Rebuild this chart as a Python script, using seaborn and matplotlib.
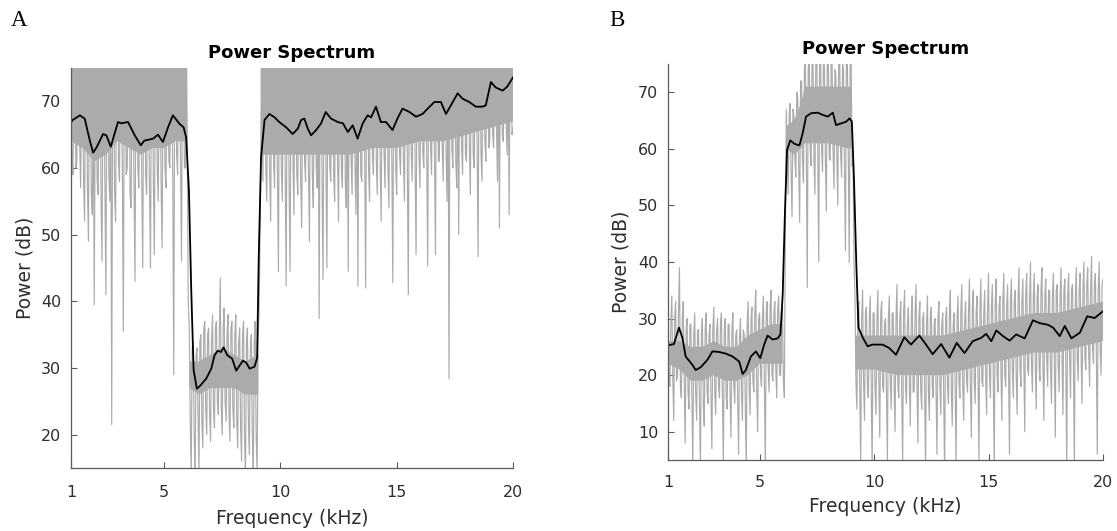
import numpy as np
import pandas as pd
import matplotlib
matplotlib.use("Agg")
import matplotlib.pyplot as plt
import seaborn as sns

# ---------------- data ----------------
# raw spectrum samples, 24 per kHz from 1 to 20 kHz (one row per kHz)
GRAY_A = [
    71, 62, 59, 74, 77, 60, 61, 76, 75, 63, 57, 73, 78, 58, 52, 75, 73, 57, 49, 76, 70, 56, 53, 72,
    39.5, 72, 74, 58, 56, 76, 77, 55, 46, 74, 73, 57, 41, 75, 76, 59, 55, 73, 21.5, 76, 75, 56, 52, 77,
    78, 61, 58, 75, 76, 60, 35.5, 77, 74, 59, 60, 76, 77, 56, 54, 74, 72, 58, 43, 76, 75, 60, 57, 73,
    73, 58, 45, 75, 76, 59, 56, 74, 71, 57, 45, 76, 75, 58, 47, 73, 77, 60, 55, 75, 72, 57, 48, 76,
    76, 60, 57, 77, 78, 61, 60, 76, 75, 58, 29, 77, 78, 62, 59, 75, 74, 61, 46, 77, 77, 60, 60, 74,
    62, 40, 36, 22, 14, 33, 34, 21, 12, 32, 33, 23, 14, 34, 35, 22, 18, 36, 37, 24, 20, 35, 36, 23,
    19, 34, 38, 24, 21, 36, 37, 25, 23, 35, 43.5, 24, 20, 36, 39, 25, 22, 35, 38, 23, 19, 36, 37, 24,
    21, 35, 38, 22, 18, 34, 36, 21, 16, 35, 37, 20, 13, 34, 36, 22, 17, 33, 35, 21, 12, 34, 37, 20,
    14, 34, 38, 50, 64, 74, 58, 77, 77, 60, 55, 75, 76, 59, 52, 76, 78, 61, 57, 73, 74, 60, 44.5, 77,
    76, 60, 55, 74, 73, 59, 42.3, 77, 77, 58, 44.5, 75, 75, 61, 53, 76, 72, 59, 56, 77, 76, 58, 51, 74,
    78, 61, 58, 76, 74, 60, 49, 75, 76, 59, 54, 77, 72, 60, 57, 74, 37.4, 76, 75, 58, 43.3, 75, 77, 61,
    45, 75, 78, 60, 58, 77, 74, 59, 55, 76, 77, 61, 52, 74, 73, 60, 57, 77, 76, 58, 54, 75, 44.5, 76,
    75, 61, 56, 77, 72, 60, 53, 76, 42.3, 74, 76, 59, 58, 75, 78, 61, 42, 76, 77, 60, 55, 78, 75, 62,
    59, 76, 78, 61, 56, 75, 77, 60, 52, 77, 74, 62, 57, 75, 76, 60, 54, 77, 72, 61, 42.8, 76, 75, 60,
    56, 77, 78, 62, 59, 75, 77, 61, 55, 76, 76, 60, 41, 77, 78, 62, 58, 75, 74, 61, 47, 78, 77, 62,
    57, 77, 75, 62, 60, 76, 78, 61, 45.3, 77, 76, 63, 59, 75, 78, 62, 47, 77, 77, 61, 61, 78, 75, 63,
    58, 76, 78, 62, 55, 77, 28.4, 75, 77, 63, 60, 78, 78, 61, 57, 76, 50, 77, 78, 63, 59, 77, 76, 62,
    61, 77, 78, 63, 56, 76, 75, 62, 60, 78, 77, 63, 46.7, 77, 78, 62, 58, 76, 76, 64, 61, 77, 78, 63,
    64, 77, 79, 65, 63, 78, 78, 66, 58, 77, 51, 78, 79, 65, 64, 77, 78, 66, 62, 78, 53, 77, 78, 65,
    66,
]
GRAY_B = [
    31, 19, 18, 29, 34, 20, 12, 30, 33, 19, 20, 31, 39, 18, 16, 30, 33, 19, 8, 28, 30, 17, 14, 29,
    29, 16, 4, 27, 31, 17, 12, 28, 28, 16, 3, 27, 30, 15, 11, 28, 31, 17, 15, 27, 29, 16, 7, 28,
    32, 17, 13, 28, 30, 18, 16, 29, 31, 17, 4, 28, 30, 16, 14, 29, 29, 17, 9, 28, 31, 18, 15, 27,
    28, 16, 6, 27, 30, 17, 12, 28, 27, 15, 3, 29, 33, 18, 13, 30, 32, 19, 17, 31, 35, 18, 10, 30,
    31, 20, 18, 30, 34, 19, 4, 31, 33, 21, 17, 32, 35, 20, 19, 31, 33, 21, 16, 32, 34, 20, 20, 31,
    32, 19, 16, 45, 67, 57, 52, 66, 68, 56, 48, 67, 66, 58, 55, 70, 69, 57, 47, 72, 72, 58, 54, 74,
    76, 59, 35.5, 74, 77, 60, 57, 76, 75, 58, 52, 77, 78, 59, 40, 75, 76, 60, 56, 77, 74, 58, 49, 76,
    77, 59, 58, 76, 75, 60, 53, 74, 73, 58, 50, 77, 76, 59, 55, 75, 74, 57, 42, 76, 77, 58, 39.9, 75,
    75, 57, 58, 40, 34, 19, 14, 31, 33, 18, 4, 30, 35, 19, 12, 31, 32, 18, 16, 30, 34, 19, 3, 31,
    31, 18, 13, 30, 35, 19, 9, 31, 33, 18, 17, 29, 30, 17, 5, 30, 34, 19, 14, 31, 31, 18, 10, 30,
    36, 18, 16, 30, 33, 17, 4, 31, 35, 18, 15, 29, 32, 19, 11, 30, 34, 17, 17, 31, 36, 18, 8, 30,
    33, 17, 14, 30, 31, 18, 3, 29, 34, 17, 12, 30, 32, 18, 16, 29, 30, 17, 6, 30, 33, 18, 13, 29,
    31, 17, 2, 30, 32, 18, 15, 31, 35, 17, 11, 29, 31, 18, 4, 30, 34, 19, 16, 31, 36, 18, 12, 30,
    33, 19, 17, 31, 37, 18, 9, 32, 35, 19, 15, 31, 34, 20, 5, 32, 37, 19, 18, 31, 35, 20, 13, 32,
    38, 20, 16, 32, 36, 19, 3, 33, 37, 20, 17, 32, 34, 21, 12, 33, 38, 20, 18, 32, 36, 21, 6, 33,
    37, 21, 16, 33, 35, 20, 13, 34, 39, 21, 18, 33, 37, 22, 10, 34, 38, 21, 20, 33, 40, 22, 17, 34,
    38, 22, 14, 34, 36, 21, 19, 35, 39, 22, 12, 34, 37, 23, 18, 35, 35, 21, 15, 34, 38, 22, 9, 35,
    36, 22, 17, 34, 39, 23, 13, 35, 37, 22, 3, 34, 38, 23, 16, 35, 36, 22, 4, 34, 39, 23, 19, 35,
    38, 24, 15, 35, 40, 23, 21, 36, 39, 24, 18, 35, 41, 25, 22, 36, 38, 24, 6, 35, 40, 25, 20, 36,
    37,
]

# dense core of the raw trace (lower / upper edge of the solid grey band);
# None separates the blocks
CORE_A_F = [1.0, 1.5, 2.0, 2.5, 3.0, 3.5, 4.0, 4.5, 5.0, 5.5, 6.0, None,
            6.1, 6.5, 7.0, 7.5, 8.0, 8.5, 9.05, None,
            9.15, 10, 11, 12, 13, 14, 15, 16, 17, 18, 19, 20]
CORE_A_LO = [64, 63, 61, 62, 64, 63, 62, 63, 63, 64, 64, None,
             27, 26, 27, 27, 27, 26, 26, None,
             62, 62, 62, 62, 62, 63, 63, 64, 64, 65, 66, 67]
CORE_A_HI = [76, 76, 76, 76, 76, 76, 76, 76, 76, 76, 76, None,
             31, 31, 32, 33, 32, 31, 32, None,
             76, 76, 76, 76, 76, 76, 76, 76, 76, 76, 76, 76]
CORE_B_F = [1.0, 1.5, 2.0, 2.5, 3.0, 3.5, 4.0, 4.5, 5.0, 5.5, 6.0, None,
            6.17, 6.5, 6.8, 7.0, 8.0, 9.0, None,
            9.2, 10, 11, 12, 13, 14, 15, 16, 17, 18, 19, 20]
CORE_B_LO = [22, 21, 19, 19, 20, 19, 19, 20, 22, 22, 22, None,
             60, 59, 60, 61, 61, 60, None,
             21, 21, 20, 20, 20, 21, 22, 23, 24, 24, 25, 26]
CORE_B_HI = [26, 26, 25, 25, 26, 25, 25, 27, 28, 29, 29, None,
             64, 65, 68, 71, 71, 71, None,
             27, 27, 27, 27, 27, 28, 29, 30, 31, 31, 32, 33]

# smoothed spectrum (black line)
SMOOTH_A_F = [1.0, 1.07, 1.38, 1.59, 1.81, 1.95, 2.10, 2.38, 2.52, 2.71, 3.02, 3.15,
              3.45, 3.74, 4.0, 4.15, 4.53, 4.74, 4.95, 5.17, 5.38, 5.67, 5.84, 5.95,
              6.07, 6.17, 6.27, 6.41, 6.57, 6.81, 7.03, 7.17, 7.31, 7.45, 7.56, 7.72,
              7.93, 8.10, 8.39, 8.53, 8.68, 8.89, 9.0, 9.07, 9.17, 9.32, 9.53, 9.75,
              9.95, 10.25, 10.53, 10.75, 10.89, 11.03, 11.18, 11.32, 11.54, 11.75,
              11.95, 12.18, 12.47, 12.69, 12.9, 13.11, 13.32, 13.54, 13.75, 13.9,
              14.11, 14.32, 14.54, 14.82, 15.03, 15.25, 15.55, 15.83, 16.11, 16.33,
              16.62, 16.9, 17.12, 17.33, 17.62, 17.83, 18.12, 18.4, 18.69, 18.83,
              19.05, 19.25, 19.55, 19.75, 20.0]
SMOOTH_A_V = [66.8, 67.2, 67.9, 67.4, 64.1, 62.3, 63.1, 65.1, 64.9, 63.2, 66.9, 66.7,
              66.9, 64.9, 63.4, 64.1, 64.4, 65.0, 63.9, 66.1, 67.9, 66.6, 66.1, 64.6,
              56.6, 41.6, 29.7, 26.9, 27.4, 28.4, 29.9, 31.9, 32.6, 32.4, 33.1, 31.9,
              31.4, 29.6, 31.1, 30.8, 29.9, 30.2, 31.5, 46.6, 61.6, 67.2, 68.1, 67.6,
              66.9, 66.1, 65.1, 65.9, 67.2, 67.4, 65.9, 64.9, 65.7, 66.7,
              68.4, 67.4, 66.9, 66.7, 65.4, 66.4, 64.4, 66.7, 67.9, 67.6,
              69.2, 66.9, 66.9, 65.7, 67.4, 68.9, 68.4, 67.7, 68.1, 68.9,
              69.9, 69.9, 68.1, 69.4, 71.2, 70.4, 69.9, 69.2, 69.2, 69.4,
              72.9, 72.1, 71.6, 72.2, 73.6]

SMOOTH_B_F = [1.0, 1.04, 1.26, 1.48, 1.63, 1.77, 2.07, 2.21, 2.43, 2.72, 2.94, 3.23,
              3.53, 3.82, 4.11, 4.26, 4.40, 4.62, 4.84, 5.03, 5.20, 5.35, 5.57, 5.79,
              5.91, 6.01, 6.11, 6.20, 6.34, 6.52, 6.74, 6.88, 7.03, 7.25, 7.54, 7.76,
              7.98, 8.20, 8.34, 8.56, 8.78, 8.93, 9.03, 9.12, 9.23, 9.32, 9.51, 9.72,
              9.93, 10.37, 10.66, 10.96, 11.32, 11.61, 11.98, 12.27, 12.56, 12.93,
              13.29, 13.61, 13.95, 14.31, 14.68, 14.90, 15.12, 15.34, 15.63, 15.92,
              16.21, 16.58, 16.94, 17.23, 17.60, 17.82, 18.11, 18.33, 18.62, 18.99,
              19.31, 19.64, 20.0]
SMOOTH_B_V = [25.3, 25.3, 25.5, 28.4, 26.6, 23.3, 21.8, 20.9, 21.4, 22.7, 24.2, 24.1,
              23.8, 23.3, 22.4, 20.2, 20.9, 23.3, 24.2, 23.0, 25.4, 27.0, 26.3, 26.5,
              27.2, 34.3, 49.1, 59.8, 61.5, 60.9, 60.6, 62.7, 65.7, 66.3, 66.4, 66.0,
              65.7, 66.4, 64.2, 64.5, 64.8, 65.4, 64.8, 55.0, 39.0, 28.4, 26.6, 25.1,
              25.4, 25.4, 24.8, 23.6, 26.7, 25.4, 27.0, 25.4, 23.7, 25.5,
              23.1, 25.7, 23.9, 26.0, 26.6, 27.3, 26.0, 27.9, 26.9, 26.1,
              27.2, 26.5, 29.7, 29.2, 28.9, 28.4, 26.9, 28.7, 26.5, 27.5,
              30.4, 30.1, 31.3]

FREQ_START, FREQ_END, SAMPLES_PER_KHZ = 1, 20, 24
X_TICKS = [1, 5, 10, 15, 20]
Y_TICKS_A = [20, 30, 40, 50, 60, 70]
Y_TICKS_B = [10, 20, 30, 40, 50, 60, 70]
TITLE = "Power Spectrum"
XLABEL = "Frequency (kHz)"
YLABEL = "Power (dB)"

GREY = "#ababab"

# ---------------- drawing ----------------
sns.set_theme(style="ticks")
plt.rcParams['font.family'] = ['DejaVu Sans']

fig = plt.figure(figsize=(11.17, 5.31), dpi=100)
W, H = 1117, 531


def add_axes(left, top, right, bottom):
    return fig.add_axes([left / W, 1 - bottom / H, (right - left) / W, (bottom - top) / H])


def nan_list(v):
    return np.array([np.nan if x is None else x for x in v], dtype=float)


def panel(ax, gray, cf, clo, chi, sf, sv, ylim, yticks, xpad, xlabelpad):
    n = len(gray)
    freq = FREQ_START + np.arange(n) / SAMPLES_PER_KHZ
    ax.fill_between(nan_list(cf), nan_list(clo), nan_list(chi), color=GREY,
                    lw=0, zorder=1)
    df_g = pd.DataFrame({"f": freq, "p": gray})
    df_s = pd.DataFrame({"f": sf, "p": sv})
    sns.lineplot(data=df_g, x="f", y="p", ax=ax, color=GREY, lw=0.85,
                 estimator=None, sort=False, zorder=2)
    sns.lineplot(data=df_s, x="f", y="p", ax=ax, color="black", lw=1.3,
                 estimator=None, sort=False, zorder=3)
    ax.set_xlim(FREQ_START, FREQ_END)
    ax.set_ylim(*ylim)
    ax.set_xticks(X_TICKS)
    ax.set_yticks(yticks)
    for s in ("top", "right"):
        ax.spines[s].set_visible(False)
    for s in ("left", "bottom"):
        ax.spines[s].set_color("#5a5a5a")
        ax.spines[s].set_linewidth(0.9)
        ax.spines[s].set_zorder(4)
    ax.tick_params(direction="in", length=4, width=0.8, color="#5a5a5a",
                   labelcolor="#2e2e2e", labelsize=11.5)
    ax.tick_params(axis="x", pad=xpad)
    ax.tick_params(axis="y", pad=7)
    ax.set_title(TITLE, fontsize=13, fontweight="bold", color="black", pad=7)
    ax.set_xlabel(XLABEL, fontsize=13.5, color="#2e2e2e", labelpad=xlabelpad)
    ax.set_ylabel(YLABEL, fontsize=13.5, color="#2e2e2e", labelpad=5)
    ax.set_facecolor("white")


axA = add_axes(71, 68, 513, 468)
panel(axA, GRAY_A, CORE_A_F, CORE_A_LO, CORE_A_HI, SMOOTH_A_F, SMOOTH_A_V,
      (15, 75), Y_TICKS_A, 12.5, 6)
axB = add_axes(668, 64, 1103, 460)
panel(axB, GRAY_B, CORE_B_F, CORE_B_LO, CORE_B_HI, SMOOTH_B_F, SMOOTH_B_V,
      (5, 75), Y_TICKS_B, 11, 5)

fig.text(19 / W, 1 - 20 / H, "A", fontsize=16.5, family=["Liberation Serif", "DejaVu Serif"],
         ha="center", va="center", color="black")
fig.text(617 / W, 1 - 20 / H, "B", fontsize=16.5, family=["Liberation Serif", "DejaVu Serif"],
         ha="center", va="center", color="black")

fig.savefig("out.png", dpi=100, facecolor="white")
